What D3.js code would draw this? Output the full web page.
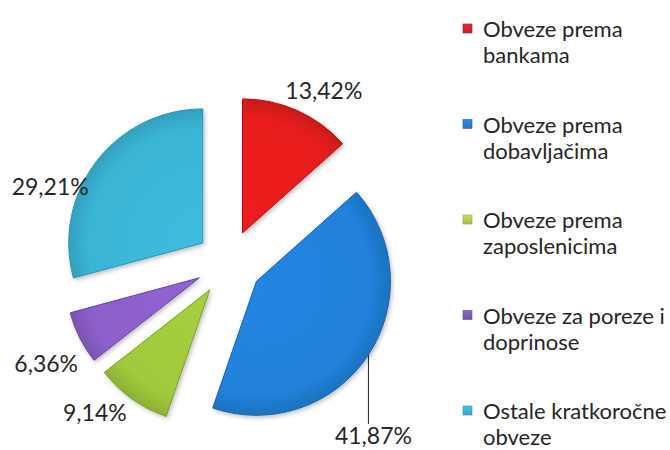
<!DOCTYPE html>
<html>
<head>
<meta charset="utf-8">
<script src="https://cdn.jsdelivr.net/npm/d3@7"></script>
<style>
  html, body { margin: 0; padding: 0; background: #fff; }
  svg { display: block; }
  text { font-family: Lato, "Open Sans", sans-serif; fill: #262626; }
</style>
</head>
<body>
<svg id="chart" width="670" height="450"></svg>
<script>
// ── data ──
const categories = [
  ['Obveze prema', 'bankama'],
  ['Obveze prema', 'dobavljačima'],
  ['Obveze prema', 'zaposlenicima'],
  ['Obveze za poreze i', 'doprinose'],
  ['Ostale kratkoročne', 'obveze']
];
const shares = [13.42, 41.87, 9.14, 6.36, 29.21];
const labelTexts = ['13,42%', '41,87%', '9,14%', '6,36%', '29,21%'];

// ── styling ──
const sliceColors = ['#e81c1c', '#2181da', '#a0c93c', '#8c60cb', '#3bb5d6'];
const edgeColors  = ['#b80e0e', '#1563b0', '#7e9f28', '#66439f', '#2694b3'];
const legendColors = ['#c4202a', '#2a72c0', '#a5bd4a', '#7157a2', '#3aa6c6'];

const W = 670, H = 450;
const cx = 229, cy = 263, R = 134, explode = 33;
// nudges of the data labels from their default spot along the slice middle
const labelNudge = [[13, 9], [-22, 61], [-18, -14], [-4, 10], [-20, 45]];
const labelDist = 200;

const svg = d3.select('#chart');
const defs = svg.append('defs');

const pie = d3.pie().sort(null).value(d => d);
const arcs = pie(shares);
const arc = d3.arc().innerRadius(0).outerRadius(R);

// gradients — lighter towards middle, darker rim
arcs.forEach((a, i) => {
  const gr = defs.append('radialGradient')
    .attr('id', 'g' + i)
    .attr('gradientUnits', 'userSpaceOnUse')
    .attr('cx', 0).attr('cy', 0).attr('r', R);
  gr.append('stop').attr('offset', '0%').attr('stop-color', d3.color(sliceColors[i]).brighter(0.1));
  gr.append('stop').attr('offset', '85%').attr('stop-color', sliceColors[i]);
  gr.append('stop').attr('offset', '100%').attr('stop-color', d3.color(sliceColors[i]).darker(0.35));

  const lg = defs.append('linearGradient')
    .attr('id', 'lg' + i).attr('x1', 0).attr('y1', 0).attr('x2', 0).attr('y2', 1);
  lg.append('stop').attr('offset', '0%').attr('stop-color', d3.color(legendColors[i]).brighter(0.5));
  lg.append('stop').attr('offset', '100%').attr('stop-color', legendColors[i]);
});

const shadow = defs.append('filter').attr('id', 'shadow')
  .attr('x', '-20%').attr('y', '-20%').attr('width', '140%').attr('height', '140%');
shadow.append('feDropShadow')
  .attr('dx', 1.5).attr('dy', 2).attr('stdDeviation', 2)
  .attr('flood-color', '#000').attr('flood-opacity', 0.25);

const pieG = svg.append('g').attr('transform', `translate(${cx},${cy})`);

function offsetOf(a, dist) {
  const m = (a.startAngle + a.endAngle) / 2;
  return [Math.sin(m) * dist, -Math.cos(m) * dist];
}

arcs.forEach((a, i) => {
  const [ox, oy] = offsetOf(a, explode);
  pieG.append('g')
    .attr('transform', `translate(${ox},${oy})`)
    .append('path')
    .attr('d', arc(a))
    .attr('fill', `url(#g${i})`)
    .attr('stroke', edgeColors[i])
    .attr('stroke-width', 1)
    .attr('stroke-linejoin', 'round')
    .attr('filter', 'url(#shadow)');
});

// data labels
arcs.forEach((a, i) => {
  const [lx, ly] = offsetOf(a, labelDist);
  const x = lx + labelNudge[i][0], y = ly + labelNudge[i][1];
  pieG.append('text')
    .attr('x', x).attr('y', y)
    .attr('text-anchor', 'middle')
    .attr('dominant-baseline', 'central')
    .style('font-size', '23px')
    .text(labelTexts[i]);

  // leader line for the big slice, its label sits below
  if (i === 1) {
    const [ox, oy] = offsetOf(a, explode);
    const lineX = x - 5;
    const dx = lineX - ox;
    const yArc = oy + Math.sqrt(R * R - dx * dx);
    pieG.append('line')
      .attr('x1', lineX).attr('x2', lineX)
      .attr('y1', yArc).attr('y2', y - 11)
      .attr('stroke', '#222').attr('stroke-width', 1);
  }
});

// legend
const legend = svg.append('g').attr('transform', 'translate(463,0)');
categories.forEach((lines, i) => {
  const y0 = 28.5 + i * 95.5;
  legend.append('rect')
    .attr('x', 0).attr('y', y0 - 4.5)
    .attr('width', 9).attr('height', 9)
    .attr('fill', `url(#lg${i})`)
    .attr('stroke', d3.color(legendColors[i]).darker(0.4))
    .attr('stroke-width', 0.6);
  lines.forEach((ln, j) => {
    legend.append('text')
      .attr('x', 20).attr('y', y0 + j * 26)
      .attr('dominant-baseline', 'central')
      .style('font-size', '22px')
      .text(ln);
  });
});
</script>
</body>
</html>
